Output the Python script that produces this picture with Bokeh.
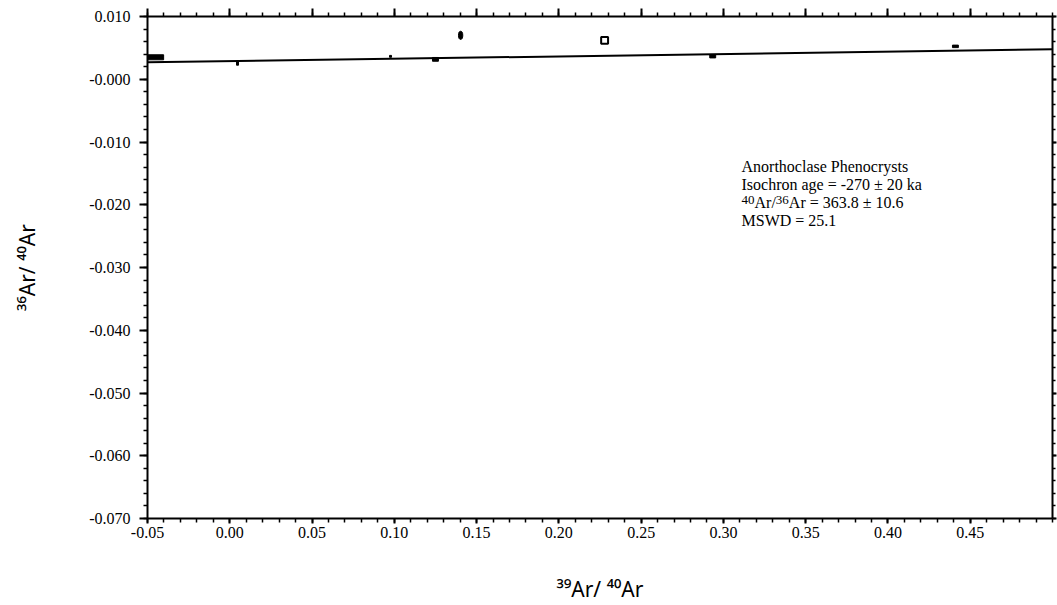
from bokeh.plotting import figure
from bokeh.models import FixedTicker, LinearAxis, Range1d, Label
from bokeh.embed import file_html
from bokeh.resources import INLINE

# ---- data ----
pt_x = [-0.0451, 0.125, 0.2935, 0.441, 0.0977, 0.0047]
pt_y = [0.0035, 0.00317, 0.00365, 0.00524, 0.00365, 0.00254]
pt_xerr = [0.0049, 0.0018, 0.0018, 0.0018, 0.0006, 0.0006]
pt_yerr = [0.0004, 0.0003, 0.00025, 0.0002, 0.00015, 0.0003]
diamond_x = [0.1403]
diamond_y = [0.0070]
diamond_xerr = [0.0013]
diamond_yerr = [0.00065]
open_x = [0.2278]
open_y = [0.0062]
open_xerr = [0.0021]
open_yerr = [0.00055]

intercept = 0.00289
slope = 0.00375
line_x = [-0.05, 0.50]

x_ticks = [-0.05, 0.00, 0.05, 0.10, 0.15, 0.20, 0.25, 0.30, 0.35, 0.40, 0.45]
x_tick_labels = ["-0.05", "0.00", "0.05", "0.10", "0.15", "0.20", "0.25", "0.30", "0.35", "0.40", "0.45"]
y_ticks = [0.010, 0.000, -0.010, -0.020, -0.030, -0.040, -0.050, -0.060, -0.070]
y_tick_labels = ["0.010", "-0.000", "-0.010", "-0.020", "-0.030", "-0.040", "-0.050", "-0.060", "-0.070"]

annot_line1 = "Anorthoclase Phenocrysts"
annot_line2 = "Isochron age = -270 \u00b1 20 ka"
annot_line3 = [("40", True), ("Ar/", False), ("36", True), ("Ar = 363.8 \u00b1 10.6", False)]
annot_line4 = "MSWD = 25.1"
x_label = "\u00b3\u2079Ar/ \u2074\u2070Ar"
y_label = "\u00b3\u2076Ar/ \u2074\u2070Ar"

SERIF = "Liberation Serif"
SANS = "Noto Sans"

p = figure(width=1057, height=605, output_backend="svg", toolbar_location=None,
           x_range=Range1d(-0.05, 0.50), y_range=Range1d(-0.070, 0.010),
           min_border_left=147, min_border_right=5, min_border_top=16, min_border_bottom=85)
p.grid.visible = False
p.outline_line_color = None
p.background_fill_color = "white"
p.border_fill_color = "white"


def style_axis(ax, major_out, minor_out, labels=True):
    ax.axis_line_width = 2
    ax.axis_line_color = "black"
    ax.major_tick_line_color = "black"
    ax.minor_tick_line_color = "black"
    ax.major_tick_line_width = 2
    ax.minor_tick_line_width = 1.5
    ax.major_tick_in = 0
    ax.major_tick_out = major_out
    ax.minor_tick_in = 0
    ax.minor_tick_out = minor_out
    ax.major_label_text_font = SERIF
    ax.major_label_text_font_size = "16px"
    ax.major_label_text_color = "black"
    if not labels:
        ax.major_label_text_alpha = 0
        ax.major_label_text_font_size = "1px"
        ax.major_label_standoff = 0


xt = FixedTicker(ticks=x_ticks, minor_ticks=[-0.05 + 0.01 * i for i in range(56)])
yt = FixedTicker(ticks=y_ticks, minor_ticks=[-0.070 + 0.002 * i for i in range(41)])

xa = p.xaxis[0]
xa.ticker = xt
xa.major_label_overrides = dict(zip(x_ticks, x_tick_labels))
style_axis(xa, 5, 4)
xa.major_label_standoff = 3
xa.axis_label = x_label
xa.axis_label_text_font = SANS
xa.axis_label_text_font_style = "normal"
xa.axis_label_text_font_size = "21px"
xa.axis_label_text_color = "black"
xa.axis_label_standoff = 34

ya = p.yaxis[0]
ya.ticker = yt
ya.major_label_overrides = dict(zip(y_ticks, y_tick_labels))
style_axis(ya, 8, 4)
ya.major_label_standoff = 9
ya.axis_label = y_label
ya.axis_label_text_font = SANS
ya.axis_label_text_font_style = "normal"
ya.axis_label_text_font_size = "21px"
ya.axis_label_text_color = "black"
ya.axis_label_standoff = 45

top = LinearAxis(ticker=xt)
style_axis(top, 8, 4, labels=False)
p.add_layout(top, "above")
right = LinearAxis(ticker=yt)
style_axis(right, 4, 3, labels=False)
p.add_layout(right, "right")

# regression line
line_y = [intercept + slope * v for v in line_x]
p.line(line_x, line_y, line_color="black", line_width=2)

# data error boxes
p.rect(x=pt_x, y=pt_y, width=[2 * e for e in pt_xerr], height=[2 * e for e in pt_yerr],
       fill_color="black", line_color="black", line_width=1)
p.ellipse(x=diamond_x, y=diamond_y, width=[2 * e for e in diamond_xerr],
          height=[2 * e for e in diamond_yerr], fill_color="black", line_color="black")
p.rect(x=open_x, y=open_y, width=[2 * e for e in open_xerr], height=[2 * e for e in open_yerr],
       fill_color="white", line_color="black", line_width=2)

# annotation
ax0, ay0 = 0.311, -0.01397
lh = 18
for i, t in enumerate([annot_line1, annot_line2]):
    p.add_layout(Label(x=ax0, y=ay0, text=t, text_font=SERIF, text_font_size="16px",
                       text_color="black", text_baseline="alphabetic", y_offset=-lh * i))
off = 0.0
for t, sup in annot_line3:
    size = 13 if sup else 16
    p.add_layout(Label(x=ax0, y=ay0, text=t, text_font=SERIF, text_font_size=f"{size}px",
                       text_color="black", text_baseline="alphabetic", x_offset=off,
                       y_offset=-lh * 2 + (3 if sup else 0)))
    if sup:
        off += 0.5 * size * len(t)
    else:
        off += (0.722 + 0.333 + 0.278) * size
p.add_layout(Label(x=ax0, y=ay0, text=annot_line4, text_font=SERIF, text_font_size="16px",
                   text_color="black", text_baseline="alphabetic", y_offset=-lh * 3))

open("out.html", "w").write(file_html(p, INLINE))
